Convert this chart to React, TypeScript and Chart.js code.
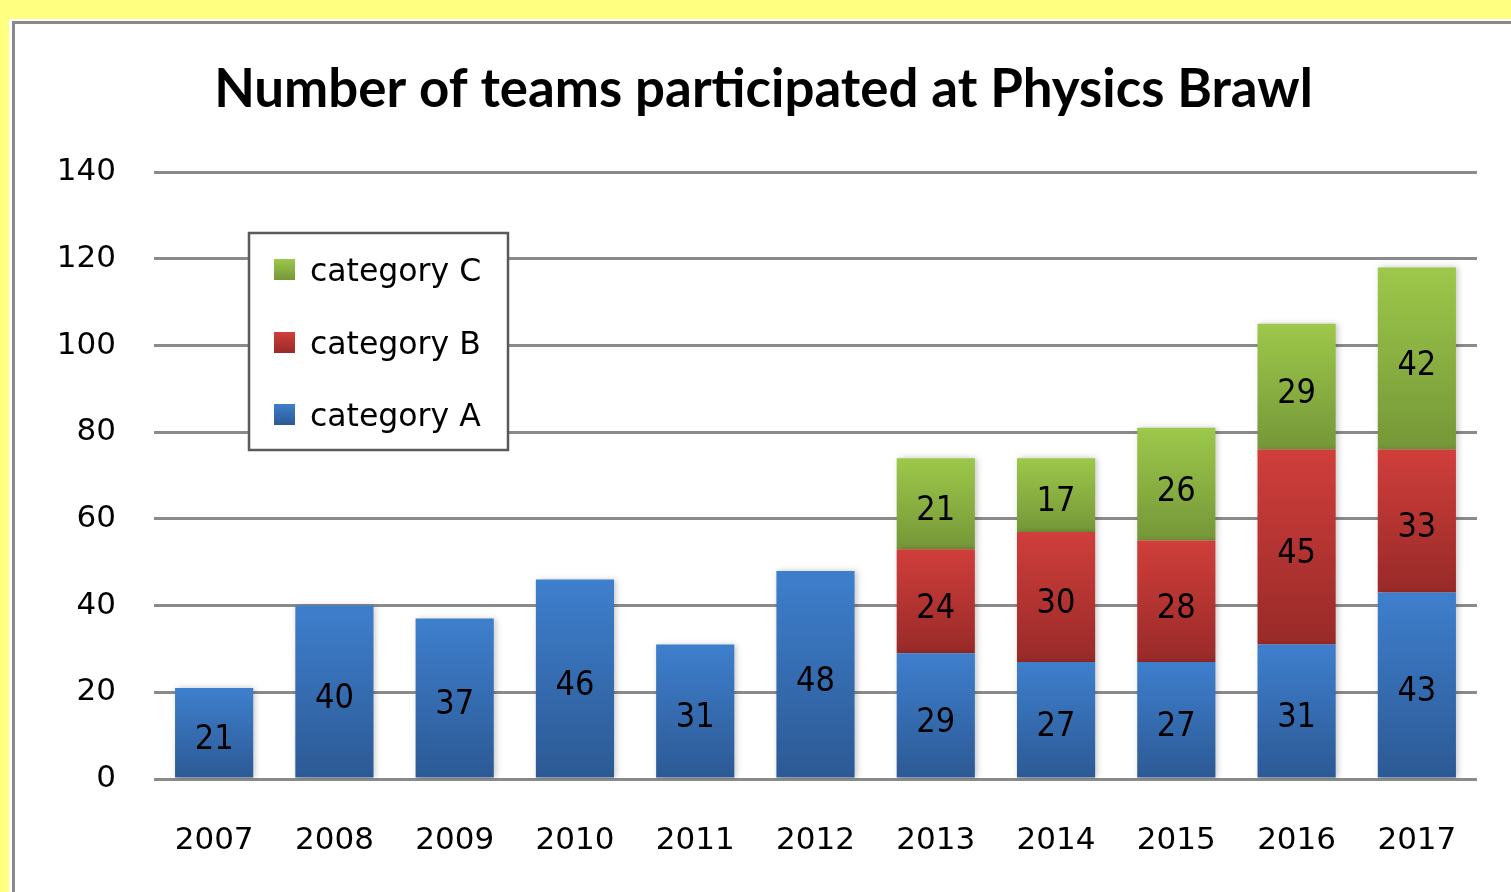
import React, { useEffect, useRef } from "react";
import { Chart, registerables } from "chart.js";

Chart.register(...registerables);

const years = ["2007", "2008", "2009", "2010", "2011", "2012", "2013", "2014", "2015", "2016", "2017"];
const categoryA = [21, 40, 37, 46, 31, 48, 29, 27, 27, 31, 43];
const categoryB = [null, null, null, null, null, null, 24, 30, 28, 45, 33];
const categoryC = [null, null, null, null, null, null, 21, 17, 26, 29, 42];
const seriesNames = ["category A", "category B", "category C"];
const yMin = 0;
const yMax = 140;
const yStep = 20;
const chartTitle = "Number of teams participated at Physics Brawl";

const allSeries: (number | null)[][] = [categoryA, categoryB, categoryC];
const gradTop = ["#3e7fcd", "#d03e3b", "#9dc84a"];
const gradBottom = ["#2c5994", "#982a28", "#759738"];

const W = 1511;
const H = 892;

function segmentBounds(dsIndex: number, i: number) {
  let base = 0;
  for (let d = 0; d < dsIndex; d++) base += allSeries[d][i] ?? 0;
  const v = allSeries[dsIndex][i] ?? 0;
  return { base, top: base + v };
}

function makeGradient(dsIndex: number) {
  return (ctx: any) => {
    const chart = ctx.chart;
    const y = chart.scales && chart.scales.y;
    if (!chart.chartArea || !y || ctx.type !== "data") return gradTop[dsIndex];
    const { base, top } = segmentBounds(dsIndex, ctx.dataIndex);
    const pTop = y.getPixelForValue(top);
    const pBot = y.getPixelForValue(base);
    if (!isFinite(pTop) || !isFinite(pBot) || pTop === pBot) return gradTop[dsIndex];
    const g = chart.ctx.createLinearGradient(0, pTop, 0, pBot);
    g.addColorStop(0, gradTop[dsIndex]);
    g.addColorStop(1, gradBottom[dsIndex]);
    return g;
  };
}

const shadowPlugin = {
  id: "barShadow",
  beforeDatasetDraw(chart: any) {
    const c = chart.ctx;
    c.save();
    c.shadowColor = "rgba(0,0,0,0.22)";
    c.shadowBlur = 6;
    c.shadowOffsetX = 2;
    c.shadowOffsetY = 0;
  },
  afterDatasetDraw(chart: any) {
    chart.ctx.restore();
  },
};

const labelFont = '34px "DejaVu Sans Condensed", "DejaVu Sans", sans-serif';
const labelCap = 34 * 0.729;

const dataLabelPlugin = {
  id: "dataLabels",
  afterDatasetsDraw(chart: any) {
    const c = chart.ctx;
    c.save();
    c.font = labelFont;
    c.fillStyle = "#000";
    c.textAlign = "center";
    c.textBaseline = "alphabetic";
    chart.data.datasets.forEach((ds: any, di: number) => {
      const meta = chart.getDatasetMeta(di);
      meta.data.forEach((el: any, i: number) => {
        const v = ds.data[i];
        if (v == null) return;
        const p = el.getProps(["x", "y", "base"], true);
        const mid = (p.y + p.base) / 2 + 4;
        c.fillText(String(v), p.x, mid + labelCap / 2);
      });
    });
    c.restore();
  },
};

const legendFont = '31.5px "DejaVu Sans", Verdana, sans-serif';
const legendPlugin = {
  id: "boxLegend",
  afterDraw(chart: any) {
    const c = chart.ctx;
    c.save();
    const x0 = 249;
    const y0 = 233;
    const x1 = 508;
    const y1 = 450;
    c.fillStyle = "#ffffff";
    c.fillRect(x0, y0, x1 - x0, y1 - y0);
    c.lineWidth = 2.5;
    c.strokeStyle = "#5a5a5a";
    c.strokeRect(x0, y0, x1 - x0, y1 - y0);
    const centers = [269.5, 342.5, 414.5];
    const order = [2, 1, 0];
    c.font = legendFont;
    c.textAlign = "left";
    c.textBaseline = "alphabetic";
    order.forEach((di, k) => {
      const cy = centers[k];
      const g = c.createLinearGradient(0, cy - 10.5, 0, cy + 10.5);
      g.addColorStop(0, gradTop[di]);
      g.addColorStop(1, gradBottom[di]);
      c.fillStyle = g;
      c.fillRect(274, cy - 10.5, 21, 21);
      c.fillStyle = "#000";
      c.fillText(chart.data.datasets[di].label, 310, cy + 11.3);
    });
    c.restore();
  },
};

export default function App() {
  const ref = useRef<HTMLCanvasElement | null>(null);

  useEffect(() => {
    if (!ref.current) return;
    const tickFont = { family: '"DejaVu Sans", Verdana, sans-serif', size: 31 };
    const chart = new Chart(ref.current, {
      type: "bar",
      data: {
        labels: years,
        datasets: allSeries.map((data, di) => ({
          label: seriesNames[di],
          data,
          backgroundColor: makeGradient(di),
          borderWidth: 0,
          barPercentage: 0.65,
          categoryPercentage: 1,
        })),
      },
      options: {
        responsive: false,
        animation: false,
        devicePixelRatio: 1,
        layout: { padding: { left: 50, right: 34, top: 0, bottom: 33 } },
        plugins: {
          legend: { display: false },
          tooltip: { enabled: false },
          title: {
            display: true,
            text: chartTitle,
            color: "#000",
            font: { family: "Lato, 'Open Sans', sans-serif", size: 52.8, weight: "bold", lineHeight: 1.2 },
            padding: { top: 58.3, bottom: 50.4 },
          },
        },
        scales: {
          x: {
            stacked: true,
            grid: { display: false },
            border: { display: false },
            ticks: { color: "#000", font: tickFont, padding: 35, maxRotation: 0 },
            afterFit: (s: any) => {
              s.height = 80;
            },
          },
          y: {
            stacked: true,
            min: yMin,
            max: yMax,
            grid: { color: "#8a8a8a", lineWidth: 3, drawTicks: false },
            border: { display: false },
            ticks: { color: "#000", font: tickFont, stepSize: yStep, padding: 38 },
            afterFit: (s: any) => {
              s.width = 104;
            },
          },
        },
      },
      plugins: [shadowPlugin, dataLabelPlugin, legendPlugin],
    } as any);
    return () => chart.destroy();
  }, []);

  return (
    <div style={{ position: "fixed", left: 0, top: 0, width: W, height: H, background: "#ffff80", overflow: "hidden" }}>
      <div style={{ position: "absolute", left: 9, top: 19, width: W, height: H, background: "#ffffff" }} />
      <div
        style={{
          position: "absolute",
          left: 12,
          top: 21,
          width: W,
          height: H,
          borderLeft: "3px solid #8a8a8a",
          borderTop: "3px solid #8a8a8a",
        }}
      />
      <canvas ref={ref} width={W} height={H} style={{ position: "absolute", left: 0, top: 0, width: W, height: H }} />
    </div>
  );
}
